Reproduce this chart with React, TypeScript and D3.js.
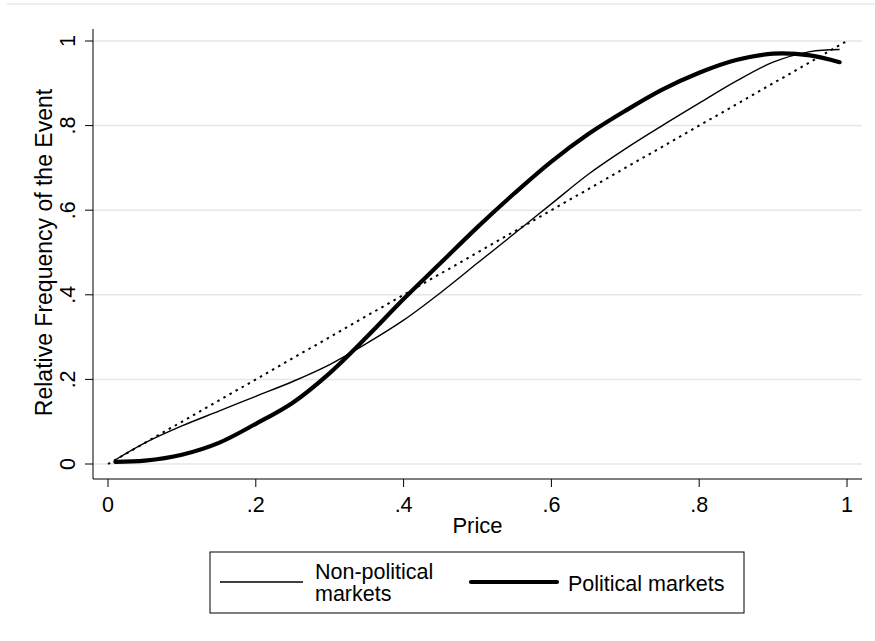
import React from 'react';
import * as d3 from 'd3';

// calibration curves (price -> relative frequency)
const prices = [0.01, 0.05, 0.1, 0.15, 0.2, 0.25, 0.3, 0.35, 0.4, 0.45, 0.5, 0.55, 0.6, 0.65, 0.7, 0.75, 0.8, 0.85, 0.9, 0.95, 0.99];
const nonPolitical = [0.01, 0.05, 0.09, 0.125, 0.16, 0.195, 0.235, 0.285, 0.34, 0.405, 0.475, 0.545, 0.615, 0.685, 0.745, 0.8, 0.853, 0.905, 0.95, 0.975, 0.98];
const political = [0.005, 0.008, 0.022, 0.05, 0.095, 0.145, 0.215, 0.3, 0.39, 0.475, 0.56, 0.64, 0.715, 0.78, 0.835, 0.885, 0.925, 0.955, 0.97, 0.966, 0.95];
const diagonal = [0, 1];

const tickValues = [0, 0.2, 0.4, 0.6, 0.8, 1];
const tickLabels = ['0', '.2', '.4', '.6', '.8', '1'];

const W = 875;
const H = 641;
const FONT = 'Arial, "Liberation Sans", Helvetica, sans-serif';

export default function App() {
  const x = d3.scaleLinear().domain([0, 1]).range([108, 847]);
  const y = d3.scaleLinear().domain([0, 1]).range([464, 41]);

  const line = d3
    .line<[number, number]>()
    .x(d => x(d[0]))
    .y(d => y(d[1]))
    .curve(d3.curveCatmullRom.alpha(0.5));

  const thin = line(prices.map((p, i) => [p, nonPolitical[i]] as [number, number])) || '';
  const thick = line(prices.map((p, i) => [p, political[i]] as [number, number])) || '';
  const diag = d3
    .line<number>()
    .x(d => x(d))
    .y(d => y(d))(diagonal) || '';

  const left = 93;
  const right = 862;
  const top = 29;
  const bottom = 479;

  return (
    <svg
      width={W}
      height={H}
      style={{ position: 'absolute', left: 0, top: 0, background: '#fff' }}
      fontFamily={FONT}
    >
      <rect x={0} y={0} width={W} height={H} fill="#fff" />
      <line x1={7} x2={W} y1={4} y2={4} stroke="#e8e8e8" strokeWidth={1.5} />

      {/* gridlines */}
      {tickValues.map(v => (
        <line key={'g' + v} x1={left} x2={right} y1={y(v)} y2={y(v)} stroke="#e6e6e6" strokeWidth={1.5} />
      ))}

      {/* axes */}
      <line x1={left} x2={left} y1={top} y2={bottom} stroke="#000" strokeWidth={1} />
      <line x1={left} x2={right} y1={bottom} y2={bottom} stroke="#000" strokeWidth={1} />

      {tickValues.map((v, i) => (
        <g key={'y' + v}>
          <line x1={85} x2={left} y1={y(v)} y2={y(v)} stroke="#000" strokeWidth={1} />
          <text
            transform={`translate(75,${y(v)}) rotate(-90)`}
            textAnchor="middle"
            fontSize={21.5}
            fill="#000"
          >
            {tickLabels[i]}
          </text>
        </g>
      ))}
      {tickValues.map((v, i) => (
        <g key={'x' + v}>
          <line x1={x(v)} x2={x(v)} y1={bottom} y2={487} stroke="#000" strokeWidth={1} />
          <text x={x(v)} y={512} textAnchor="middle" fontSize={21.5} fill="#000">
            {tickLabels[i]}
          </text>
        </g>
      ))}

      <text x={(x(0) + x(1)) / 2} y={533} textAnchor="middle" fontSize={22} fill="#000">
        Price
      </text>
      <text
        transform={`translate(52,${(y(0) + y(1)) / 2}) rotate(-90)`}
        textAnchor="middle"
        fontSize={23}
        fill="#000"
      >
        Relative Frequency of the Event
      </text>

      {/* series */}
      <path d={diag} fill="none" stroke="#000" strokeWidth={2} strokeDasharray="2.5 4.5" />
      <path d={thin} fill="none" stroke="#000" strokeWidth={1.4} strokeLinejoin="round" />
      <path d={thick} fill="none" stroke="#000" strokeWidth={4.2} strokeLinejoin="round" strokeLinecap="round" />

      {/* legend */}
      <rect x={210} y={552} width={534} height={61} fill="#fff" stroke="#000" strokeWidth={1} />
      <line x1={220} x2={303} y1={582} y2={582} stroke="#000" strokeWidth={1.4} />
      <text x={315} y={579} fontSize={21.5} fill="#000">Non-political</text>
      <text x={315} y={601} fontSize={21.5} fill="#000">markets</text>
      <line x1={471} x2={557} y1={582} y2={582} stroke="#000" strokeWidth={4.2} strokeLinecap="round" />
      <text x={568} y={591} fontSize={21.5} fill="#000">Political markets</text>
    </svg>
  );
}
